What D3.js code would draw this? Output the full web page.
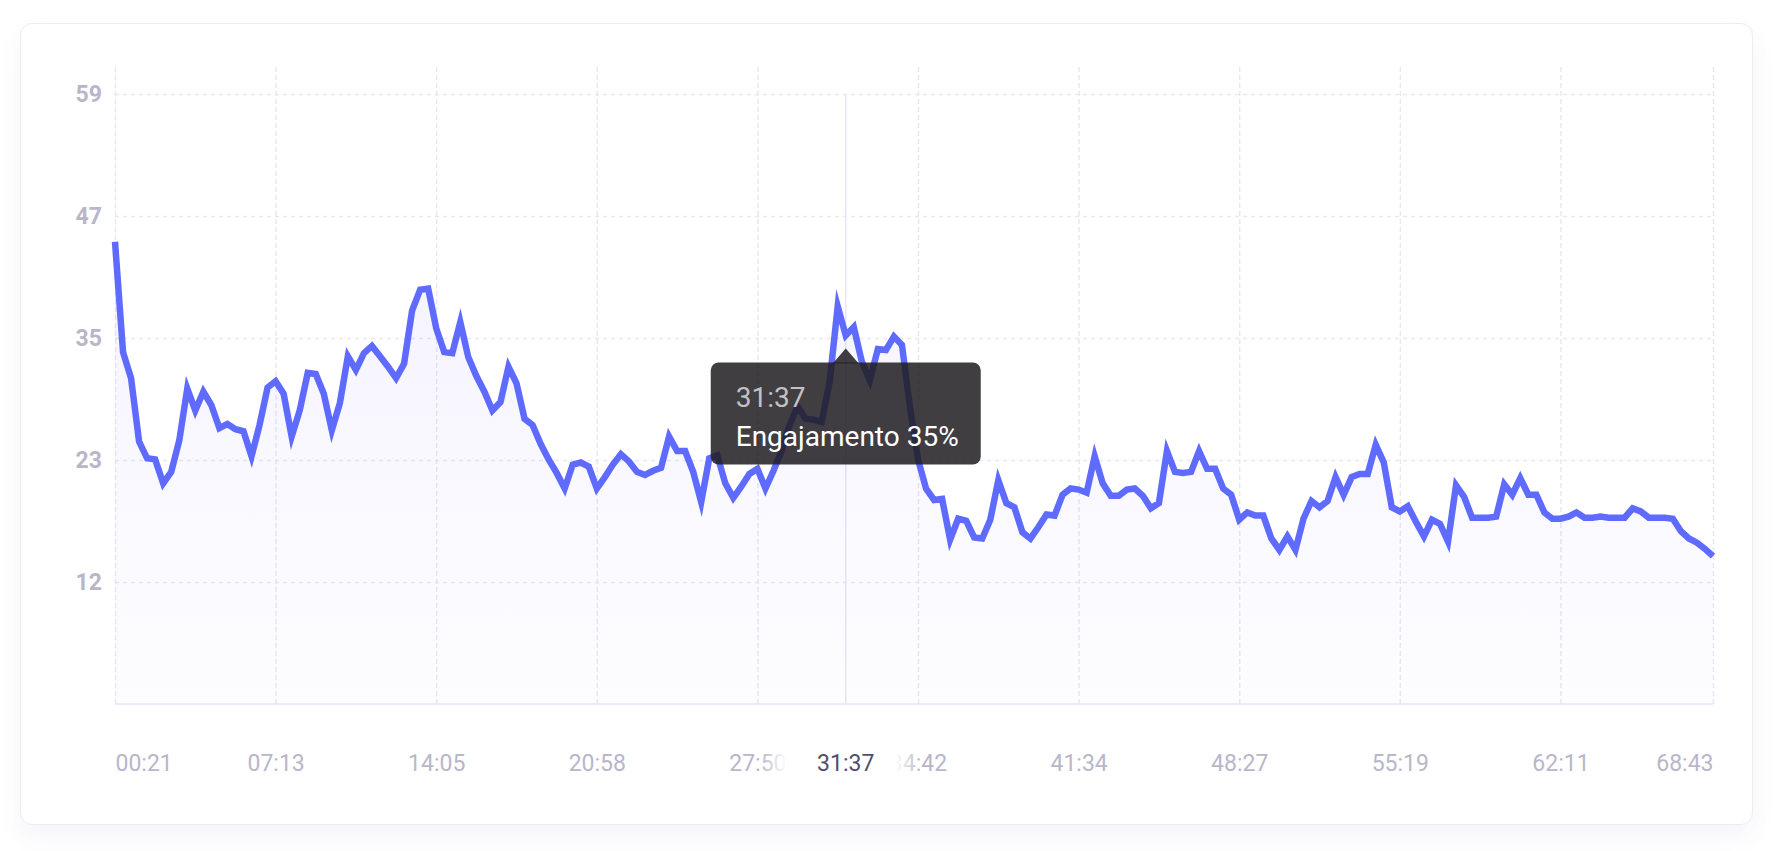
<!DOCTYPE html>
<html>
<head>
<meta charset="utf-8">
<script src="https://cdn.jsdelivr.net/npm/d3@7"></script>
<style>
  body { margin: 0; background: #ffffff; font-family: Roboto, "Noto Sans", sans-serif; }
  #card { position: absolute; left: 20px; top: 23px; width: 1731px; height: 800px;
          border: 1px solid #ececf1; border-radius: 12px; background: #ffffff;
          box-shadow: 0 12px 26px rgba(90, 90, 170, 0.06); }
  #chart svg { position: absolute; left: 0; top: 0; }
</style>
</head>
<body>
<div id="card"></div>
<div id="chart"></div>
<script>
// engagement values (%), one point every ~20.6 s
const VALUES = [
  44.4, 33.8, 31.3, 25.2, 23.6, 23.5, 21.2, 22.3, 25.3, 30.3,
  28.2, 30.0, 28.7, 26.5, 26.9, 26.4, 26.2, 23.8, 26.8, 30.4,
  31.0, 29.8, 25.7, 28.2, 31.8, 31.7, 29.8, 26.3, 28.9, 33.4,
  32.1, 33.7, 34.4, 33.4, 32.4, 31.3, 32.7, 37.8, 39.8, 39.9,
  36.1, 33.8, 33.7, 36.7, 33.3, 31.5, 30.0, 28.2, 29.0, 32.4,
  30.8, 27.4, 26.8, 25.0, 23.5, 22.2, 20.7, 23.0, 23.2, 22.8,
  20.7, 21.8, 23.0, 24.0, 23.3, 22.3, 22.0, 22.4, 22.7, 25.7,
  24.3, 24.3, 22.3, 19.4, 23.6, 23.9, 21.2, 19.8, 20.9, 22.1,
  22.6, 20.7, 22.4, 24.3, 26.8, 28.6, 27.4, 27.3, 27.1, 31.0,
  38.2, 35.4, 36.2, 32.9, 31.1, 34.1, 34.0, 35.3, 34.5, 28.5,
  23.5, 20.7, 19.6, 19.7, 15.8, 17.8, 17.6, 16.0, 15.9, 17.7,
  21.5, 19.3, 18.9, 16.5, 15.9, 17.0, 18.2, 18.1, 20.1, 20.7,
  20.6, 20.3, 23.8, 21.2, 20.0, 20.0, 20.6, 20.7, 20.0, 18.8,
  19.3, 24.3, 22.3, 22.2, 22.3, 24.3, 22.6, 22.6, 20.7, 20.1,
  17.7, 18.4, 18.1, 18.1, 15.9, 14.8, 16.1, 14.8, 17.8, 19.5,
  18.9, 19.5, 21.8, 20.1, 21.8, 22.1, 22.1, 24.9, 23.2, 18.9,
  18.5, 19.0, 17.5, 16.1, 17.7, 17.3, 15.6, 21.0, 19.9, 17.9,
  17.9, 17.9, 18.0, 21.1, 20.1, 21.7, 20.1, 20.1, 18.4, 17.8,
  17.8, 18.0, 18.4, 17.9, 17.9, 18.0, 17.9, 17.9, 17.9, 18.8,
  18.5, 17.9, 17.9, 17.9, 17.8, 16.6, 15.9, 15.5, 14.9, 14.2
];

// x axis ticks (point index -> label)
const TICK_INDEX = [0, 20, 40, 60, 80, 100, 120, 140, 160, 180, 199];
const TICK_LABELS = ["00:21", "07:13", "14:05", "20:58", "27:50", "34:42",
                     "41:34", "48:27", "55:19", "62:11", "68:43"];

// y axis
const Y_MAX = 58.6;
const Y_TICK_LABELS = ["12", "23", "35", "47", "59"];

// hovered point
const HOVER_INDEX = 91;
const HOVER_LABEL = "31:37";
const TOOLTIP_TEXT = "Engajamento 35%";

// sets frame up
const FRAME_WIDTH = 1786;
const FRAME_HEIGHT = 851;
const PLOT = {left: 115, right: 1713, top: 64, bottom: 704, yMaxPos: 94};

const FRAME = d3.select("#chart")
                .append("svg")
                  .attr("width", FRAME_WIDTH)
                  .attr("height", FRAME_HEIGHT);

const X_SCALE = d3.scaleLinear()
                    .domain([0, VALUES.length - 1])
                    .range([PLOT.left, PLOT.right]);
const Y_SCALE = d3.scaleLinear()
                    .domain([0, Y_MAX])
                    .range([PLOT.bottom, PLOT.yMaxPos]);

const Y_TICKS = Y_TICK_LABELS.map((d, i) => Y_MAX * (i + 1) / Y_TICK_LABELS.length);

const GRID_COLOR = "#e9e7f6";
const LABEL_COLOR = "#b9b6ca";

function build_chart() {
    const defs = FRAME.append("defs");

    // area gradient
    const areaGrad = defs.append("linearGradient")
        .attr("id", "areaGrad")
        .attr("gradientUnits", "userSpaceOnUse")
        .attr("x1", 0).attr("x2", 0)
        .attr("y1", Y_SCALE(d3.max(VALUES))).attr("y2", PLOT.bottom);
    areaGrad.append("stop").attr("offset", "0%").attr("stop-color", "#7a6cff").attr("stop-opacity", 0.075);
    areaGrad.append("stop").attr("offset", "100%").attr("stop-color", "#7a6cff").attr("stop-opacity", 0.015);

    // fade mask behind hovered x label
    const maskGrad = defs.append("linearGradient")
        .attr("id", "labelMask")
        .attr("x1", 0).attr("x2", 1).attr("y1", 0).attr("y2", 0);
    maskGrad.append("stop").attr("offset", "0%").attr("stop-color", "#fff").attr("stop-opacity", 0);
    maskGrad.append("stop").attr("offset", "16%").attr("stop-color", "#fff").attr("stop-opacity", 1);
    maskGrad.append("stop").attr("offset", "84%").attr("stop-color", "#fff").attr("stop-opacity", 1);
    maskGrad.append("stop").attr("offset", "100%").attr("stop-color", "#fff").attr("stop-opacity", 0);

    // horizontal grid
    FRAME.append("g")
        .attr("transform", "translate(" + PLOT.left + ",0)")
        .call(d3.axisLeft(Y_SCALE).tickValues(Y_TICKS)
                .tickSize(-(PLOT.right - PLOT.left)).tickFormat(""))
        .call(g => g.select(".domain").remove())
        .call(g => g.selectAll("line")
                    .attr("stroke", GRID_COLOR)
                    .attr("stroke-width", 1.5)
                    .attr("stroke-dasharray", "4,4"));

    // vertical grid
    FRAME.append("g")
        .attr("transform", "translate(0," + PLOT.bottom + ")")
        .call(d3.axisBottom(X_SCALE).tickValues(TICK_INDEX)
                .tickSize(-(PLOT.bottom - PLOT.top)).tickFormat(""))
        .call(g => g.select(".domain").remove())
        .call(g => g.selectAll("line")
                    .attr("stroke", GRID_COLOR)
                    .attr("stroke-width", 1.5)
                    .attr("stroke-dasharray", "5,3"));

    // hover line
    FRAME.append("line")
        .attr("x1", X_SCALE(HOVER_INDEX)).attr("x2", X_SCALE(HOVER_INDEX))
        .attr("y1", PLOT.yMaxPos).attr("y2", PLOT.bottom)
        .attr("stroke", "#e8e6f8")
        .attr("stroke-width", 1.5);

    // area under the line
    const area = d3.area()
        .x((d, i) => X_SCALE(i))
        .y0(PLOT.bottom)
        .y1(d => Y_SCALE(d));
    FRAME.append("path")
        .datum(VALUES)
        .attr("d", area)
        .attr("fill", "url(#areaGrad)");

    // bottom axis line
    FRAME.append("line")
        .attr("x1", PLOT.left).attr("x2", PLOT.right)
        .attr("y1", PLOT.bottom).attr("y2", PLOT.bottom)
        .attr("stroke", "#e8e6f8")
        .attr("stroke-width", 1.5);

    // the line
    const line = d3.line()
        .x((d, i) => X_SCALE(i))
        .y(d => Y_SCALE(d));
    FRAME.append("path")
        .datum(VALUES)
        .attr("d", line)
        .attr("fill", "none")
        .attr("stroke", "#5f6bff")
        .attr("stroke-width", 6.5)
        .attr("stroke-linejoin", "miter")
        .attr("stroke-miterlimit", 6);

    // y axis labels
    FRAME.append("g")
        .attr("transform", "translate(" + PLOT.left + ",0)")
        .call(d3.axisLeft(Y_SCALE).tickValues(Y_TICKS)
                .tickSize(0).tickPadding(13)
                .tickFormat((d, i) => Y_TICK_LABELS[i]))
        .call(g => g.select(".domain").remove())
        .call(g => g.selectAll("text")
                    .attr("fill", LABEL_COLOR)
                    .attr("font-family", "Roboto, sans-serif")
                    .attr("font-weight", 700)
                    .attr("font-size", "23px"));

    // x axis labels
    FRAME.append("g")
        .attr("transform", "translate(0," + PLOT.bottom + ")")
        .call(d3.axisBottom(X_SCALE).tickValues(TICK_INDEX)
                .tickSize(0).tickPadding(51)
                .tickFormat((d, i) => TICK_LABELS[i]))
        .call(g => g.select(".domain").remove())
        .call(g => g.selectAll("text")
                    .attr("fill", LABEL_COLOR)
                    .attr("font-family", "Roboto, sans-serif")
                    .attr("font-size", "23px")
                    .attr("text-anchor", (d, i) => i === 0 ? "start" :
                          (i === TICK_INDEX.length - 1 ? "end" : "middle")));

    // hovered x label with fading background
    const hx = X_SCALE(HOVER_INDEX);
    FRAME.append("rect")
        .attr("x", hx - 85).attr("y", PLOT.bottom + 40)
        .attr("width", 160).attr("height", 40)
        .attr("fill", "url(#labelMask)");
    FRAME.append("text")
        .attr("x", hx)
        .attr("y", PLOT.bottom + 51)
        .attr("dy", "0.71em")
        .attr("text-anchor", "middle")
        .attr("fill", "#514e6c")
        .attr("font-family", "Roboto, sans-serif")
        .attr("font-size", "23px")
        .text(HOVER_LABEL);

    // tooltip
    const py = Y_SCALE(VALUES[HOVER_INDEX]);
    const tipY = py + 13;
    const boxW = 270, boxH = 102;
    const boxX = hx - boxW / 2, boxY = tipY + 14;
    const tip = FRAME.append("g");
    tip.append("path")
        .attr("d", "M" + (hx - 13) + "," + (boxY + 1) + "L" + hx + "," + tipY +
                   "L" + (hx + 13) + "," + (boxY + 1) + "Z")
        .attr("fill", "rgba(30,28,32,0.85)");
    tip.append("rect")
        .attr("x", boxX).attr("y", boxY)
        .attr("width", boxW).attr("height", boxH)
        .attr("rx", 8)
        .attr("fill", "rgba(30,28,32,0.85)");
    tip.append("text")
        .attr("x", boxX + 25).attr("y", boxY + 44)
        .attr("fill", "#c3c1c6")
        .attr("font-family", "Roboto, sans-serif")
        .attr("font-size", "28px")
        .text(HOVER_LABEL);
    tip.append("text")
        .attr("x", boxX + 25).attr("y", boxY + 83)
        .attr("fill", "#ffffff")
        .attr("font-family", "Roboto, sans-serif")
        .attr("font-size", "28px")
        .text(TOOLTIP_TEXT);
}
build_chart();
</script>
</body>
</html>
